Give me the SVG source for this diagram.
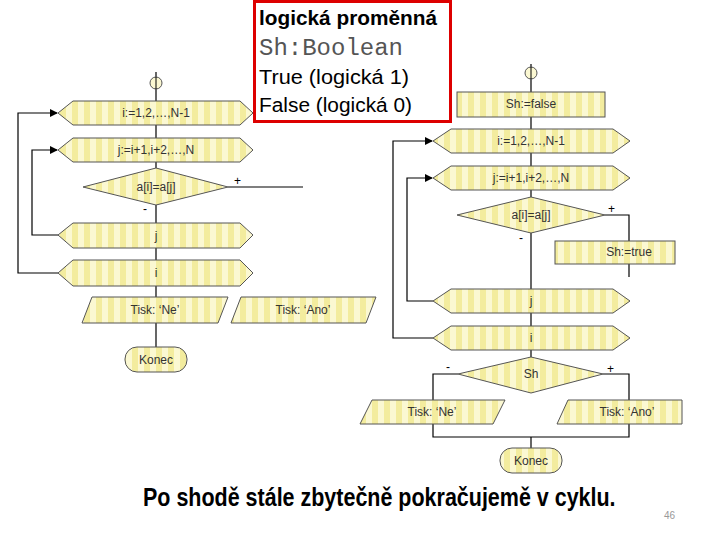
<svg xmlns="http://www.w3.org/2000/svg" width="720" height="540" viewBox="0 0 720 540">
<defs>
<pattern id="stripe" width="12" height="10" patternUnits="userSpaceOnUse">
<rect width="12" height="10" fill="#fbf8d2"/>
<rect width="6" height="10" fill="#f3ec9e"/>
</pattern>
<marker id="arr" markerWidth="8" markerHeight="8" refX="7" refY="4" orient="auto" markerUnits="userSpaceOnUse">
<path d="M0,0 L8,4 L0,8 z" fill="#000"/>
</marker>
</defs>
<style>
.sh{fill:url(#stripe);stroke:#555;stroke-width:1}
.ln{fill:none;stroke:#000;stroke-width:1.2}
.t{font-family:"Liberation Sans",Arial,sans-serif;font-size:12px;fill:#333;text-anchor:middle}
.pm{font-family:"Liberation Sans",Arial,sans-serif;font-size:12px;fill:#000}
.big{font-family:"Liberation Sans",Arial,sans-serif;font-size:20px;fill:#000}
</style>
<rect width="720" height="540" fill="#fff"/>

<g id="connectors">
<line class="ln" x1="156" y1="72" x2="156" y2="101"/>
<line class="ln" x1="156" y1="125" x2="156" y2="138"/>
<line class="ln" x1="156" y1="161" x2="156" y2="168"/>
<line class="ln" x1="156" y1="205" x2="156" y2="223"/>
<line class="ln" x1="156" y1="248" x2="156" y2="260"/>
<line class="ln" x1="156" y1="286" x2="156" y2="297"/>
<line class="ln" x1="156" y1="323" x2="156" y2="347"/>
<line class="ln" x1="228" y1="187" x2="303" y2="187"/>
<polyline class="ln" points="58,273 18,273 18,113 57,113" marker-end="url(#arr)"/>
<polyline class="ln" points="58,235 32,235 32,150 57,150" marker-end="url(#arr)"/>
<line class="ln" x1="531" y1="64" x2="531" y2="92"/>
<line class="ln" x1="531" y1="117" x2="531" y2="129"/>
<line class="ln" x1="531" y1="153" x2="531" y2="166"/>
<line class="ln" x1="531" y1="190" x2="531" y2="197"/>
<line class="ln" x1="531" y1="233" x2="531" y2="289"/>
<line class="ln" x1="531" y1="313" x2="531" y2="326"/>
<line class="ln" x1="531" y1="350" x2="531" y2="357"/>
<polyline class="ln" points="605,215 629,215 629,241"/>
<line class="ln" x1="629" y1="264" x2="629" y2="277"/>
<polyline class="ln" points="433,338 393,338 393,141 432,141" marker-end="url(#arr)"/>
<polyline class="ln" points="433,301 407,301 407,178 432,178" marker-end="url(#arr)"/>
<polyline class="ln" points="458,374 433,374 433,437 629,437 629,374 603,374"/>
<line class="ln" x1="531" y1="437" x2="531" y2="448"/>
</g>

<g id="L_start"><circle cx="156" cy="83" r="6" fill="#fbf8d2" stroke="#555"/><line x1="156" y1="77" x2="156" y2="89" stroke="#000"/></g>
<g id="L_for_i"><polygon class="sh" points="58,113 73,101 240,101 253,113 240,125 73,125"/><text class="t" x="156" y="117">i:=1,2,…,N-1</text></g>
<g id="L_for_j"><polygon class="sh" points="58,150 73,138 240,138 253,150 240,162 73,162"/><text class="t" x="156" y="154">j:=i+1,i+2,…,N</text></g>
<g id="L_cond"><polygon class="sh" points="156,168 228,187 156,205 83,187"/><text class="t" x="156" y="191">a[i]=a[j]</text>
<text class="pm" x="234" y="185">+</text><text class="pm" x="143" y="213">-</text></g>
<g id="L_end_j"><polygon class="sh" points="58,235 73,223 240,223 253,235 240,248 73,248"/><text class="t" x="156" y="240">j</text></g>
<g id="L_end_i"><polygon class="sh" points="58,273 73,260 240,260 253,273 240,286 73,286"/><text class="t" x="156" y="277">i</text></g>
<g id="L_ne"><polygon class="sh" points="92,297 228,297 218,323 82,323"/><text class="t" x="155" y="314">Tisk: ‘Ne’</text></g>
<g id="L_ano"><polygon class="sh" points="241,297 376,297 366,323 231,323"/><text class="t" x="303" y="314">Tisk: ‘Ano’</text></g>
<g id="L_konec"><rect class="sh" x="125" y="347" width="62" height="25" rx="12"/><text class="t" x="156" y="364">Konec</text></g>

<g id="R_start"><circle cx="531" cy="73" r="6" fill="#fbf8d2" stroke="#555"/><line x1="531" y1="67" x2="531" y2="79" stroke="#000"/></g>
<g id="R_init"><rect class="sh" x="457" y="92" width="148" height="25"/><text class="t" x="531" y="108">Sh:=false</text></g>
<g id="R_for_i"><polygon class="sh" points="433,141 451,129 613,129 630,141 613,153 451,153"/><text class="t" x="531" y="145">i:=1,2,…,N-1</text></g>
<g id="R_for_j"><polygon class="sh" points="433,178 451,166 613,166 630,178 613,190 451,190"/><text class="t" x="531" y="182">j:=i+1,i+2,…,N</text></g>
<g id="R_cond"><polygon class="sh" points="531,197 605,215 531,233 457,215"/><text class="t" x="531" y="219">a[i]=a[j]</text>
<text class="pm" x="608" y="213">+</text><text class="pm" x="519" y="242">-</text></g>
<g id="R_set"><rect class="sh" x="555" y="241" width="120" height="23"/><text class="t" x="629" y="256">Sh:=true</text></g>
<g id="R_end_j"><polygon class="sh" points="433,301 451,289 613,289 630,301 613,313 451,313"/><text class="t" x="531" y="305">j</text></g>
<g id="R_end_i"><polygon class="sh" points="433,338 451,326 613,326 630,338 613,350 451,350"/><text class="t" x="531" y="342">i</text></g>
<g id="R_sh"><polygon class="sh" points="531,357 603,374 531,393 458,374"/><text class="t" x="531" y="378">Sh</text>
<text class="pm" x="446" y="371">-</text><text class="pm" x="607" y="373">+</text></g>
<g id="R_ne"><polygon class="sh" points="372,400 505,400 493,424 360,424"/><text class="t" x="432" y="416">Tisk: ‘Ne’</text></g>
<g id="R_ano"><polygon class="sh" points="568,400 682,400 682,424 557,424"/><text class="t" x="627" y="416">Tisk: ‘Ano’</text></g>
<g id="R_konec"><rect class="sh" x="500" y="448" width="62" height="25" rx="12"/><text class="t" x="531" y="465">Konec</text></g>

<g id="note">
<rect x="254.5" y="1.5" width="196" height="120" fill="#fff" stroke="#d00" stroke-width="3"/>
<text class="big" x="259" y="25" font-weight="bold" textLength="178" lengthAdjust="spacingAndGlyphs">logická proměnná</text>
<text x="259" y="55" font-family="'Liberation Mono','Courier New',monospace" font-size="23" fill="#555" textLength="144" lengthAdjust="spacingAndGlyphs">Sh:Boolean</text>
<text class="big" x="259" y="84" textLength="150" lengthAdjust="spacingAndGlyphs">True (logická 1)</text>
<text class="big" x="259" y="112" textLength="153" lengthAdjust="spacingAndGlyphs">False (logická 0)</text>
</g>

<text transform="translate(143,506) scale(0.85,1)" x="0" y="0" font-family="'Liberation Sans',Arial,sans-serif" font-size="25" font-weight="bold" fill="#000" textLength="556" lengthAdjust="spacingAndGlyphs">Po shodě stále zbytečně pokračujemě v cyklu.</text>
<text x="664" y="519" font-family="'Liberation Sans',Arial,sans-serif" font-size="10" fill="#999">46</text>
</svg>
